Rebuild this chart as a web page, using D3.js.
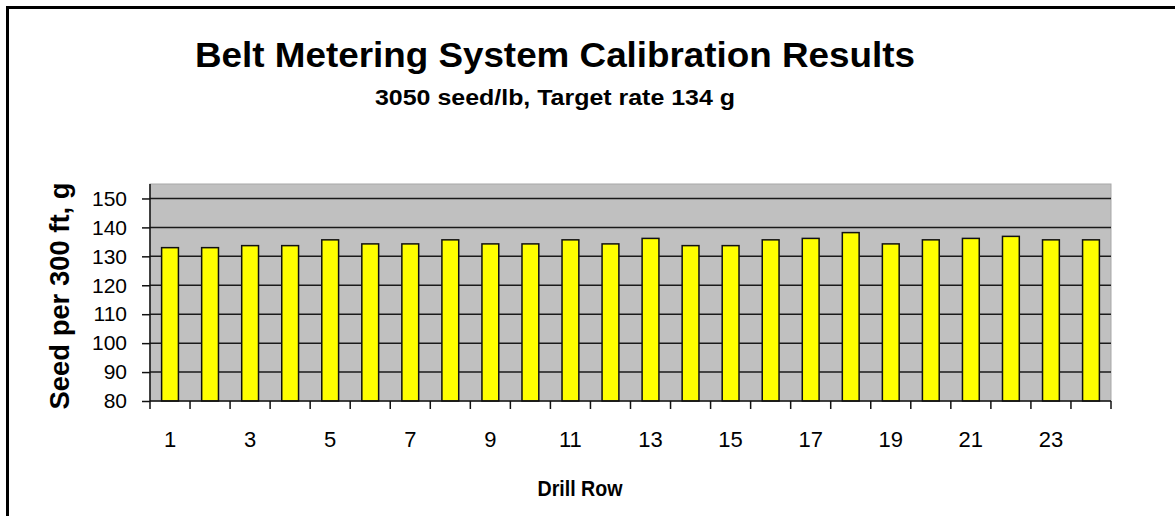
<!DOCTYPE html>
<html>
<head>
<meta charset="utf-8">
<script src="https://cdn.jsdelivr.net/npm/d3@7"></script>
<style>
  body { margin: 0; background: #fff; }
  text { font-family: Arial, 'Liberation Sans', sans-serif; fill: #000; }
</style>
</head>
<body>
<div id="chart"></div>
<script>
// data
var rows = d3.range(1, 25)
var seedWeights = [133, 133, 133.7, 133.7, 135.7, 134.3, 134.3, 135.7, 134.3, 134.3, 135.7, 134.3,
  136.2, 133.7, 133.7, 135.7, 136.2, 138.2, 134.3, 135.7, 136.2, 136.9, 135.7, 135.7]
var yTicks = [80, 90, 100, 110, 120, 130, 140, 150]

var margin = { top: 184, right: 64, bottom: 115, left: 150 }
var width = 1175 - margin.left - margin.right
var height = 516 - margin.top - margin.bottom

var root = d3.select('#chart')
  .append('svg')
  .attr('width', 1175)
  .attr('height', 516)

// outer frame (top and left edges only show)
root.append('path')
  .attr('d', 'M7.5,516V7.5H1175')
  .attr('fill', 'none')
  .attr('stroke', '#000')
  .attr('stroke-width', 3)

root.append('text')
  .attr('x', 555).attr('y', 67)
  .attr('text-anchor', 'middle')
  .attr('font-size', 35).attr('font-weight', 'bold')
  .attr('textLength', 720).attr('lengthAdjust', 'spacingAndGlyphs')
  .text('Belt Metering System Calibration Results')

root.append('text')
  .attr('x', 555).attr('y', 105)
  .attr('text-anchor', 'middle')
  .attr('font-size', 22).attr('font-weight', 'bold')
  .attr('textLength', 360).attr('lengthAdjust', 'spacingAndGlyphs')
  .text('3050  seed/lb, Target rate 134 g')

var svg = root.append('g')
  .attr('transform', 'translate(' + margin.left + ',' + margin.top + ')')

var xScale = d3.scaleBand()
  .domain(rows)
  .range([0, width])
var yScale = d3.scaleLinear()
  .domain([80, 155])
  .range([height, 0])

// plot area
svg.append('rect')
  .attr('width', width)
  .attr('height', height)
  .attr('fill', '#c0c0c0')
  .attr('stroke', '#a8a8a8')

// gridlines
svg.selectAll('.grid')
  .data(yTicks.slice(1))
  .enter()
  .append('line')
  .attr('x1', 0)
  .attr('x2', width)
  .attr('y1', d => yScale(d))
  .attr('y2', d => yScale(d))
  .attr('stroke', '#1a1a1a')
  .attr('stroke-width', 1.5)

var barWidth = xScale.bandwidth() * 0.42
svg.selectAll('.bar')
  .data(seedWeights)
  .enter()
  .append('rect')
  .attr('x', (d, i) => xScale(rows[i]) + (xScale.bandwidth() - barWidth) / 2)
  .attr('y', d => yScale(d))
  .attr('width', barWidth)
  .attr('height', d => height - yScale(d))
  .attr('fill', '#ffff00')
  .attr('stroke', '#111')
  .attr('stroke-width', 1.5)

// y axis
var yAxis = d3.axisLeft(yScale)
  .tickValues(yTicks)
  .tickSize(8)
  .tickPadding(15)
var yg = svg.append('g')
  .attr('class', 'axis y-axis')
  .call(yAxis)
yg.selectAll('text').attr('font-size', 21).attr('font-family', null)
yg.selectAll('line, path').attr('stroke', '#111').attr('stroke-width', 1.5)
yg.select('.domain').attr('d', 'M0,0V' + height)

// x axis: tick marks between rows, labels on odd rows
var xAxis = d3.axisBottom(xScale)
  .tickSize(0)
  .tickPadding(30)
  .tickFormat(d => d % 2 === 1 ? d : '')
var xg = svg.append('g')
  .attr('class', 'axis x-axis')
  .attr('transform', 'translate(0,' + height + ')')
  .call(xAxis)
xg.selectAll('text').attr('font-size', 22).attr('font-family', null)
xg.select('.domain').attr('d', 'M0,0H' + width).attr('stroke', '#111').attr('stroke-width', 1.5)
xg.selectAll('.sep')
  .data(rows.concat([null]))
  .enter()
  .append('line')
  .attr('x1', d => d === null ? width : xScale(d))
  .attr('x2', d => d === null ? width : xScale(d))
  .attr('y1', 0)
  .attr('y2', 8)
  .attr('stroke', '#111')
  .attr('stroke-width', 1.5)

root.append('text')
  .attr('x', 580).attr('y', 496)
  .attr('text-anchor', 'middle')
  .attr('font-size', 22).attr('font-weight', 'bold')
  .attr('textLength', 85).attr('lengthAdjust', 'spacingAndGlyphs')
  .text('Drill Row')

root.append('text')
  .attr('transform', 'translate(69,296) rotate(-90)')
  .attr('text-anchor', 'middle')
  .attr('font-size', 27).attr('font-weight', 'bold')
  .attr('textLength', 227).attr('lengthAdjust', 'spacingAndGlyphs')
  .text('Seed per 300 ft, g')
</script>
</body>
</html>
